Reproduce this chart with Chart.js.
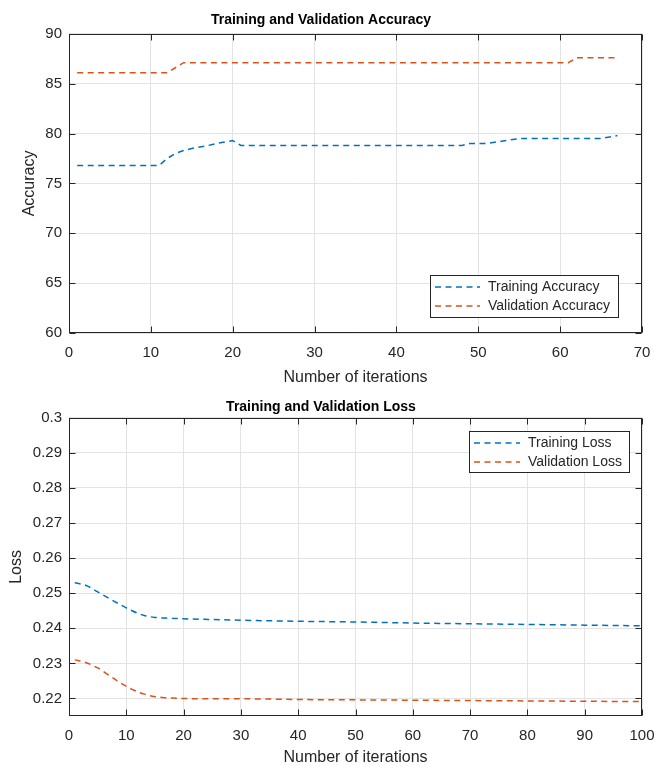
<!DOCTYPE html>
<html>
<head>
<meta charset="utf-8">
<script src="https://cdn.jsdelivr.net/npm/chart.js@4.4.0/dist/chart.umd.min.js"></script>
<style>
  html, body { margin: 0; padding: 0; background: #fff; }
  canvas { position: absolute; left: 0; }
  #acc { top: 0; }
  #loss { top: 390px; }
</style>
</head>
<body>
<canvas id="acc" width="654" height="390"></canvas>
<canvas id="loss" width="654" height="377"></canvas>
<script>
// ---- data ----
const trainAccIter = [1, 11, 12, 13, 14, 15, 17, 18, 20, 21, 48, 49, 51, 53, 55, 65, 67];
const trainAcc     = [76.8, 76.8, 77.5, 78.0, 78.3, 78.5, 78.8, 79.0, 79.3, 78.8, 78.8, 79.0, 79.0, 79.25, 79.5, 79.5, 79.8];
const valAccIter   = [1, 12, 14, 61, 62, 67];
const valAcc       = [86.1, 86.1, 87.1, 87.1, 87.6, 87.6];

const lossIter  = [1, 3, 5, 7, 9, 11, 13, 15, 17, 20, 25, 30, 40, 50, 60, 70, 80, 90, 100];
const trainLoss = [0.2530, 0.2522, 0.2504, 0.2485, 0.2467, 0.2450, 0.2437, 0.2431, 0.2429, 0.2427, 0.2425, 0.2423, 0.2420, 0.2418, 0.2415, 0.2413, 0.2411, 0.2409, 0.2407];
const valLoss   = [0.2310, 0.2302, 0.2287, 0.2266, 0.2244, 0.2226, 0.2213, 0.2205, 0.2202, 0.2200, 0.2199, 0.2199, 0.2197, 0.2196, 0.2195, 0.2194, 0.2193, 0.2192, 0.2191];

const accXTicks  = [0, 10, 20, 30, 40, 50, 60, 70];
const accYTicks  = [60, 65, 70, 75, 80, 85, 90];
const lossXTicks = [0, 10, 20, 30, 40, 50, 60, 70, 80, 90, 100];
const lossYTicks = [0.22, 0.23, 0.24, 0.25, 0.26, 0.27, 0.28, 0.29, 0.3];

const BLUE = '#0072BD';
const ORANGE = '#D95319';
const INK = '#262626';
const FONT = "'Liberation Sans', Arial, Helvetica, sans-serif";

Chart.defaults.font.family = FONT;
Chart.defaults.color = INK;

const pts = (xs, ys) => xs.map((x, i) => ({ x: x, y: ys[i] }));
const setTicks = list => scale => { scale.ticks = list.map(v => ({ value: v })); };

// box round the plot, inner tick marks and a MATLAB-like legend
const matlabFrame = {
    id: 'matlabFrame',
    afterDraw(chart, args, opts) {
        const { ctx, chartArea: a, scales } = chart;
        const L = Math.round(a.left) + 0.5, R = Math.round(a.right) - 0.5;
        const T = Math.round(a.top) + 0.5, B = Math.round(a.bottom) - 0.5;
        ctx.save();
        ctx.strokeStyle = INK;
        ctx.lineWidth = 1;
        ctx.setLineDash([]);
        ctx.beginPath();
        scales.x.ticks.forEach(t => {
            const px = Math.round(scales.x.getPixelForValue(t.value)) + 0.5;
            ctx.moveTo(px, B); ctx.lineTo(px, B - 6);
            ctx.moveTo(px, T); ctx.lineTo(px, T + 6);
        });
        scales.y.ticks.forEach(t => {
            const py = Math.round(scales.y.getPixelForValue(t.value)) + 0.5;
            ctx.moveTo(L, py); ctx.lineTo(L + 6, py);
            ctx.moveTo(R, py); ctx.lineTo(R - 6, py);
        });
        ctx.stroke();
        ctx.strokeRect(L, T, R - L, B - T);

        // legend
        const lg = opts.legend;
        if (lg) {
            ctx.fillStyle = '#fff';
            ctx.fillRect(lg.x, lg.y, lg.w, lg.h);
            ctx.strokeStyle = INK;
            ctx.strokeRect(lg.x + 0.5, lg.y + 0.5, lg.w, lg.h);
            ctx.font = '14px ' + FONT;
            ctx.textBaseline = 'middle';
            chart.data.datasets.forEach((ds, i) => {
                const cy = lg.y + lg.rowTop + i * lg.rowGap;
                ctx.strokeStyle = ds.borderColor;
                ctx.lineWidth = 1.5;
                ctx.setLineDash(ds.borderDash);
                ctx.beginPath();
                ctx.moveTo(lg.x + 5, cy);
                ctx.lineTo(lg.x + 5 + lg.sample, cy);
                ctx.stroke();
                ctx.setLineDash([]);
                ctx.fillStyle = INK;
                ctx.fillText(ds.label, lg.x + lg.sample + 13, cy);
            });
        }
        ctx.restore();
    }
};

function lineSet(label, data, color, smooth) {
    return {
        label: label,
        data: data,
        borderColor: color,
        borderWidth: 1.5,
        borderDash: [6, 4.5],
        pointRadius: 0,
        fill: false,
        cubicInterpolationMode: smooth ? 'monotone' : 'default',
        tension: 0
    };
}

function axisX(min, max, ticks, height, titlePad) {
    return {
        type: 'linear', min: min, max: max,
        afterBuildTicks: setTicks(ticks),
        afterFit: s => { s.height = height; s.paddingLeft = 0; s.paddingRight = 0; },
        grid: { color: '#e3e3e3', drawTicks: false },
        border: { display: false },
        ticks: { padding: 11, maxRotation: 0, font: { size: 15 }, color: INK },
        title: { display: true, text: 'Number of iterations', font: { size: 16 }, color: INK, padding: { top: 0, bottom: titlePad } }
    };
}

function axisY(min, max, ticks, label, titlePad, fmt) {
    return {
        min: min, max: max,
        afterBuildTicks: setTicks(ticks),
        afterFit: s => { s.width = 69; s.paddingTop = 0; s.paddingBottom = 0; },
        grid: { color: '#e3e3e3', drawTicks: false },
        border: { display: false },
        ticks: { padding: 7, font: { size: 15 }, color: INK, callback: fmt || (v => v) },
        title: { display: true, text: label, font: { size: 16 }, color: INK, padding: { top: titlePad, bottom: 0 } }
    };
}

new Chart(document.getElementById('acc'), {
    type: 'line',
    data: {
        datasets: [
            lineSet('Training Accuracy', pts(trainAccIter, trainAcc), BLUE, false),
            lineSet('Validation Accuracy', pts(valAccIter, valAcc), ORANGE, false)
        ]
    },
    options: {
        responsive: false,
        animation: false,
        layout: { padding: { left: 0, right: 12, top: 0, bottom: 0 } },
        plugins: {
            legend: { display: false },
            tooltip: { enabled: false },
            title: { display: true, text: 'Training and Validation Accuracy', color: '#000', font: { size: 14, weight: 'bold' }, padding: { top: 12, bottom: 5 } },
            matlabFrame: { legend: { x: 430, y: 275, w: 188, h: 42, rowTop: 12, rowGap: 19, sample: 45 } }
        },
        scales: {
            x: axisX(0, 70, accXTicks, 57, 3),
            y: axisY(60, 90, accYTicks, 'Accuracy', 20)
        }
    },
    plugins: [matlabFrame]
});

new Chart(document.getElementById('loss'), {
    type: 'line',
    data: {
        datasets: [
            lineSet('Training Loss', pts(lossIter, trainLoss), BLUE, true),
            lineSet('Validation Loss', pts(lossIter, valLoss), ORANGE, true)
        ]
    },
    options: {
        responsive: false,
        animation: false,
        layout: { padding: { left: 0, right: 12, top: 0, bottom: 0 } },
        plugins: {
            legend: { display: false },
            tooltip: { enabled: false },
            title: { display: true, text: 'Training and Validation Loss', color: '#000', font: { size: 14, weight: 'bold' }, padding: { top: 9, bottom: 2 } },
            matlabFrame: { legend: { x: 469, y: 41, w: 160, h: 41, rowTop: 12, rowGap: 19, sample: 46 } }
        },
        scales: {
            x: axisX(0, 100, lossXTicks, 51, 0),
            y: axisY(0.215, 0.3, lossYTicks, 'Loss', 7, v => String(+v.toFixed(2)))
        }
    },
    plugins: [matlabFrame]
});
</script>
</body>
</html>
